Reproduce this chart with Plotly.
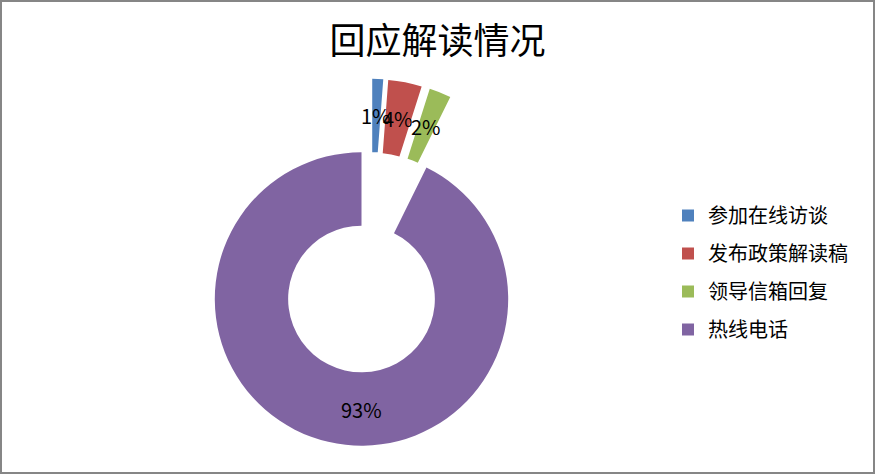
import math
import plotly.graph_objects as go

# ---- data -------------------------------------------------------------
labels = ["参加在线访谈", "发布政策解读稿", "领导信箱回复", "热线电话"]
shares = [1.2, 3.7, 2.4, 92.7]          # percent of all responses
colors = ["#4F81BD", "#C0504D", "#9BBB59", "#8064A2"]

# ---- layout / style -----------------------------------------------------
W, H = 875, 474
CX, CY = 361.5, 299.0        # centre of the ring, px
R = 146.7                    # outer radius, px
HOLE = 0.5
EXPLODE_PX = 74.3            # how far the detached slices are moved out
explode_dir = [8.3, 12.2, 18.7, None]   # offset direction, deg clockwise from 12 o'clock
label_dir = [None, None, None, 180.0]   # fixed label angle (None = slice bisector)
FONT = "Noto Sans CJK SC"
CLEAR = "rgba(0,0,0,0)"


def domain(cx, cy):
    return dict(x=[(cx - R) / W, (cx + R) / W],
                y=[1 - (cy + R) / H, 1 - (cy - R) / H])


def offset(i):
    if explode_dir[i] is None:
        return 0.0, 0.0
    a = math.radians(explode_dir[i])
    return EXPLODE_PX * math.sin(a), -EXPLODE_PX * math.cos(a)


fig = go.Figure()

# legend entries (one tiny pie per label so the rows can be spaced apart)
for i, lab in enumerate(labels):
    fig.add_trace(go.Pie(
        labels=[lab], values=[shares[i]], marker=dict(colors=[colors[i]]),
        domain=dict(x=[0, 0.0004], y=[0, 0.0004]), textinfo="none",
        hoverinfo="skip", legendgroup=lab, showlegend=True, sort=False))

# ring slices: the attached ones in one trace, each detached one on its own
groups = [[i for i in range(len(labels)) if explode_dir[i] is None]]
groups += [[i] for i in range(len(labels)) if explode_dir[i] is not None]
for grp in groups:
    dx, dy = offset(grp[0])
    fig.add_trace(go.Pie(
        labels=labels, values=shares, sort=False, direction="clockwise",
        rotation=0, hole=HOLE, textinfo="none", showlegend=False,
        marker=dict(colors=[colors[j] if j in grp else CLEAR
                            for j in range(len(labels))],
                    line=dict(width=0)),
        domain=domain(CX + dx, CY + dy), hoverinfo="label+percent"))

# percentage labels at the middle of each ring segment
total = sum(shares)
start = 0.0
r_mid = R * (1 + HOLE) / 2
for i, v in enumerate(shares):
    span = v / total * 360.0
    ang = label_dir[i] if label_dir[i] is not None else start + span / 2
    dx, dy = offset(i)
    a = math.radians(ang)
    px = CX + dx + r_mid * math.sin(a)
    py = CY + dy - r_mid * math.cos(a)
    fig.add_annotation(x=px / W, y=1 - py / H, xref="paper", yref="paper",
                       text=f"{round(v / total * 100)}%", showarrow=False,
                       font=dict(family=FONT, size=20, color="black"),
                       xanchor="center", yanchor="middle")
    start += span

fig.update_layout(
    width=W, height=H,
    margin=dict(l=0, r=0, t=0, b=0),
    paper_bgcolor="white", plot_bgcolor="white",
    title=dict(text="回应解读情况", x=0.5, xanchor="center",
               y=1 - 41.5 / H, yref="container", yanchor="middle",
               font=dict(family=FONT, size=36, color="black")),
    legend=dict(x=(708 - 40) / W, y=1 - 196 / H, xanchor="left", yanchor="top",
                font=dict(family=FONT, size=20, color="black"),
                traceorder="grouped", tracegroupgap=9,
                bgcolor="rgba(0,0,0,0)"),
    shapes=[dict(type="rect", xref="paper", yref="paper",
                 x0=1 / W, x1=1 - 1 / W, y0=1 / H, y1=1 - 1 / H,
                 line=dict(color="#868686", width=2))],
)

fig.write_html("out.html")
